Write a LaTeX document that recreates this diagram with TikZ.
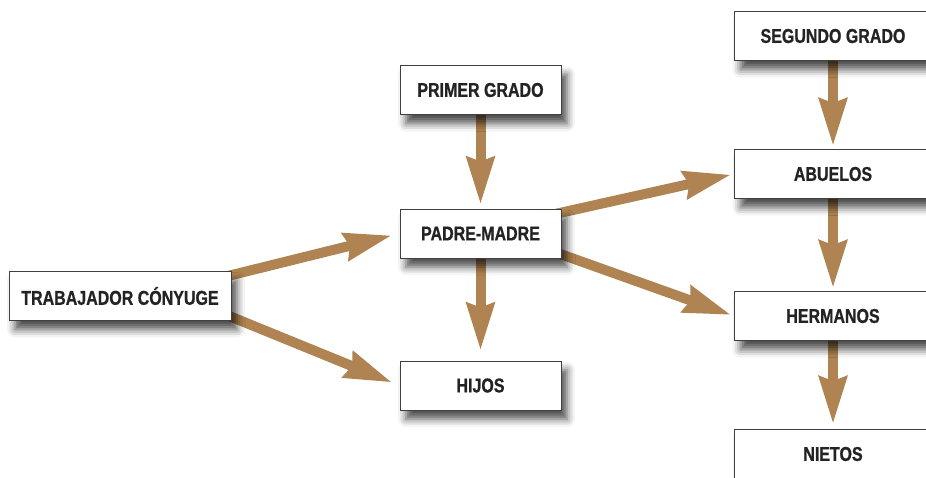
\documentclass[tikz,border=0pt]{standalone}
\usepackage{fontspec}
\newfontfamily\cajafont[FakeStretch=0.8,FakeBold=0.8]{Liberation Sans}
\usetikzlibrary{arrows.meta,shadows.blur}
\definecolor{cafe}{RGB}{176,132,82}
\definecolor{texto}{RGB}{35,35,35}
\pgfdeclarelayer{fondo}
\pgfsetlayers{fondo,main}

\begin{document}
\begin{tikzpicture}[x=1pt,y=-1pt,
  caja/.style={draw=black!75,line width=0.8pt,fill=white,text=texto,
    font=\cajafont\bfseries\fontsize{20}{22}\selectfont,
    minimum height=49pt,inner sep=0pt,
    blur shadow={shadow xshift=6pt,shadow yshift=-9pt,shadow blur radius=8pt,shadow opacity=70}},
  flecha/.style={cafe,line width=10pt,-{Stealth[length=47pt,width=27pt,inset=4pt]}}]
  \useasboundingbox (0,0) rectangle (926,477);
  % Cajas
  \node[caja,minimum width=222pt] (tc) at (120,296) {TRABAJADOR CÓNYUGE};
  \node[caja,minimum width=161pt] (pg) at (480.5,90) {PRIMER GRADO};
  \node[caja,minimum width=161pt] (pm) at (480.5,233.5) {PADRE-MADRE};
  \node[caja,minimum width=161pt] (hi) at (480.5,385.5) {HIJOS};
  \node[caja,minimum width=197pt] (sg) at (833,36) {SEGUNDO GRADO};
  \node[caja,minimum width=197pt] (ab) at (833,174) {ABUELOS};
  \node[caja,minimum width=197pt] (he) at (833,316) {HERMANOS};
  \node[caja,minimum width=197pt] (ni) at (833,454) {NIETOS};
  % Flechas
  \begin{pgfonlayer}{fondo}
    \draw[flecha,shorten <=-20pt,shorten >=8pt] ([yshift=-4pt]tc.north east) -- (pm.west);
    \draw[flecha,shorten <=-20pt,shorten >=8pt] ([yshift=4pt]tc.south east) -- (hi.west);
    \draw[flecha,shorten <=-10pt,shorten >=4pt] (pg) -- (pm);
    \draw[flecha,shorten <=-10pt,shorten >=10pt] (pm) -- (hi);
    \draw[flecha,shorten <=-20pt,shorten >=3pt] ([yshift=-4pt]pm.north east) -- (ab.west);
    \draw[flecha,shorten <=-20pt,shorten >=3pt] ([yshift=4pt]pm.south east) -- (he.west);
    \draw[flecha,shorten <=-10pt,shorten >=3pt] (sg) -- (ab);
    \draw[flecha,shorten <=-10pt,shorten >=3pt] (ab) -- (he);
    \draw[flecha,shorten <=-10pt,shorten >=5pt] (he) -- (ni);
  \end{pgfonlayer}
\end{tikzpicture}
\end{document}
